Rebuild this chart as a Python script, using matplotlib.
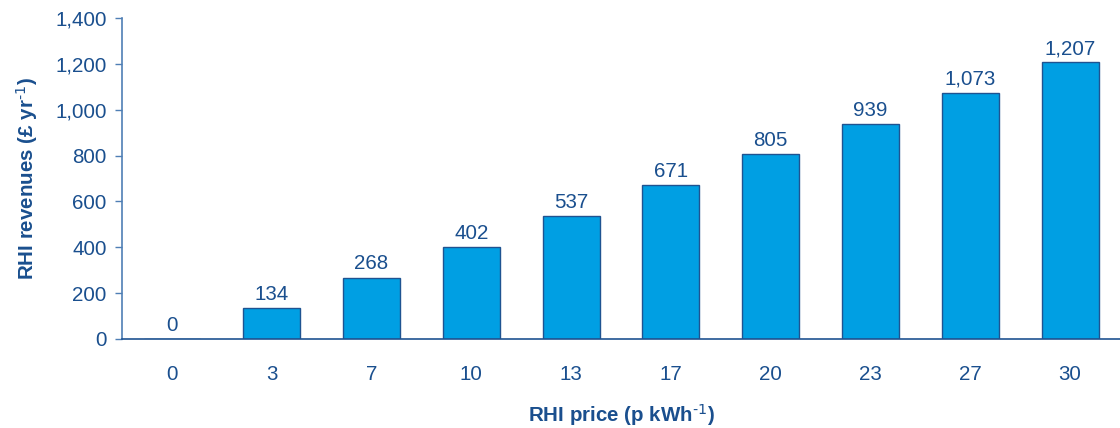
import matplotlib
matplotlib.use("Agg")
import matplotlib.pyplot as plt
from matplotlib.ticker import FuncFormatter

plt.rcParams['font.family'] = ['Liberation Sans', 'DejaVu Sans']
plt.rcParams['mathtext.default'] = 'regular'

prices = ['0', '3', '7', '10', '13', '17', '20', '23', '27', '30']
revenues = [0, 134, 268, 402, 537, 671, 805, 939, 1073, 1207]

text_color = '#1a4f8e'
bar_color = '#009fe3'
edge_color = '#1f5391'
fs = 14.8

fig = plt.figure(figsize=(11.2, 4.28), dpi=100)
ax = fig.add_axes([0.109, 0.208, 0.891, 0.750])

x = list(range(len(prices)))
bars = ax.bar(x, revenues, width=0.57, color=bar_color, edgecolor=edge_color, linewidth=1.0, zorder=2)

for xi, v in zip(x, revenues):
    ax.annotate(f'{v:,}', (xi, v), xytext=(0, 3), textcoords='offset points',
                ha='center', va='bottom', fontsize=fs, color=text_color)

ax.set_xlim(-0.5, 9.5)
ax.set_ylim(0, 1400)
ax.set_yticks(range(0, 1401, 200))
ax.yaxis.set_major_formatter(FuncFormatter(lambda v, p: f'{int(v):,}'))
ax.set_xticks(x)
ax.set_xticklabels(prices)

ax.tick_params(axis='y', length=5, width=1, color='#4f7fb5', labelsize=fs,
               labelcolor=text_color, pad=6)
ax.tick_params(axis='x', length=0, labelsize=fs, labelcolor=text_color, pad=19)

for s in ('top', 'right'):
    ax.spines[s].set_visible(False)
ax.spines['left'].set_color('#4f7fb5')
ax.spines['left'].set_linewidth(1.2)
ax.spines['bottom'].set_color(edge_color)
ax.spines['bottom'].set_linewidth(1.2)

ax.set_ylabel(r'RHI revenues (£ yr$^{\text{-1}}$)', fontsize=fs, fontweight='bold',
              color=text_color, labelpad=11)
ax.set_xlabel(r'RHI price (p kWh$^{\text{-1}}$)', fontsize=fs, fontweight='bold',
              color=text_color, labelpad=12)

fig.savefig('out.png', dpi=100)
